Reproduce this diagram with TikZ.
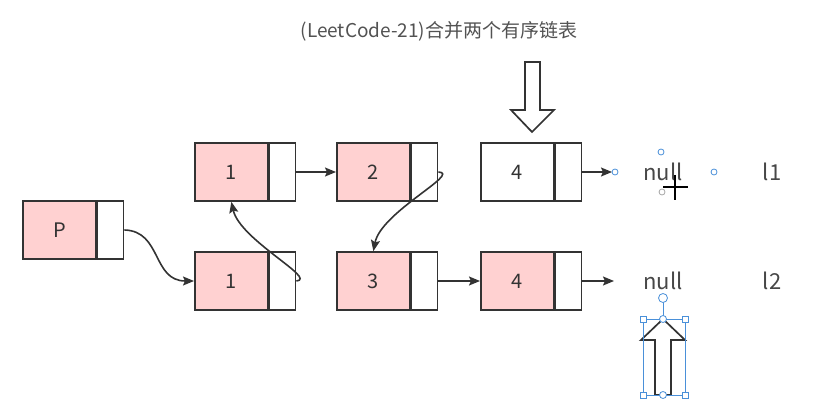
\documentclass[tikz,border=0pt]{standalone}
\usepackage{fontspec}
\setmainfont{Noto Sans CJK SC}
\usetikzlibrary{arrows.meta}
\definecolor{ink}{HTML}{333333}
\definecolor{pinkfill}{HTML}{FFD1D1}
\definecolor{selblue}{HTML}{4A90D9}
\tikzset{
  mainbox/.style={draw=ink, line width=1.7pt, minimum width=73pt, minimum height=58pt, inner sep=0pt, anchor=west, text=ink, font=\fontsize{20}{20}\selectfont},
  ptrbox/.style={draw=ink, line width=1.7pt, fill=white, minimum width=26pt, minimum height=58pt, inner sep=0pt, anchor=west},
  link/.style={draw=ink, line width=1.6pt, -{Stealth[length=11pt,width=9pt,inset=2pt]}},
  lbl/.style={text=ink!90, font=\fontsize{22}{22}\selectfont, inner sep=0pt},
  handle/.style={draw=selblue, fill=white, line width=0.8pt},
  blockarrow/.style={draw=ink, fill=white, line width=1.7pt, line join=miter},
}
\begin{document}
\begin{tikzpicture}[x=1pt,y=-1pt]
\useasboundingbox (0,0) rectangle (824,403);
% title
\node[text=ink!85, font=\fontsize{19}{19}\selectfont, inner sep=0pt] (title) at (439,31) {(LeetCode-21)合并两个有序链表};
% nodes
\node[mainbox, fill=pinkfill] (p) at (22,230) {P};
\node[ptrbox] (pp) at (p.east) {};
\node[mainbox, fill=pinkfill] (t1) at (194,172) {1};
\node[ptrbox] (t1p) at (t1.east) {};
\node[mainbox, fill=pinkfill] (t2) at (336,172) {2};
\node[ptrbox] (t2p) at (t2.east) {};
\node[mainbox, fill=white] (t4) at (480,172) {4};
\node[ptrbox] (t4p) at (t4.east) {};
\node[mainbox, fill=pinkfill] (b1) at (194,281) {1};
\node[ptrbox] (b1p) at (b1.east) {};
\node[mainbox, fill=pinkfill] (b3) at (336,281) {3};
\node[ptrbox] (b3p) at (b3.east) {};
\node[mainbox, fill=pinkfill] (b4) at (480,281) {4};
\node[ptrbox] (b4p) at (b4.east) {};
% labels
\node[lbl] (null1) at (663,172) {null};
\node[lbl] (null2) at (663,281) {null};
\node[lbl] (l1) at (772,172) {l1};
\node[lbl] (l2) at (772,281) {l2};
\coordinate (n1end) at (612,172);
\coordinate (n2end) at (614,281);
% straight links
\draw[link] (t1p.east) -- (t2.west);
\draw[link] (b3p.east) -- (b4.west);
\draw[link] (t4p.east) -- (n1end);
\draw[link] (b4p.east) -- (n2end);
% curved links
\draw[link] (pp.east) .. controls (162,231) and (152,281) .. (b1.west);
\draw[link] (b1p.east) .. controls (318,279) and (240,240) .. (t1.south);
\draw[link] (t2p.east) .. controls (462,173) and (381,212) .. (b3.north);
% block arrows
\draw[blockarrow] (525,62) -- (540,62) -- (540,110) -- (554,110) -- (532,132) -- (511,110) -- (525,110) -- cycle;
\draw[blockarrow] (663,319) -- (685,340) -- (671,340) -- (671,395) -- (655,395) -- (655,340) -- (641,340) -- cycle;
% selection handles
\draw[selblue, line width=0.6pt] (643,319) rectangle (685,395);
\draw[selblue, line width=0.8pt] (663,298) -- (663,319);
\foreach \hx/\hy in {643/319,685/319,643/395,685/395}
  \draw[handle] (\hx-3,\hy-3) rectangle (\hx+3,\hy+3);
\foreach \hx/\hy in {663/319,663/395}
  \draw[handle] (\hx,\hy) circle (3.5);
\draw[handle] (663,298) circle (4.5);
\foreach \hx/\hy in {615/172,661/152,714/172}
  \draw[handle] (\hx,\hy) circle (3);
\draw[draw=gray!70, fill=white, line width=0.8pt] (662,192) circle (3);
% cursor
\draw[black, line width=1.6pt] (675,175) -- (675,200) (663,187) -- (688,187);
\end{tikzpicture}
\end{document}
